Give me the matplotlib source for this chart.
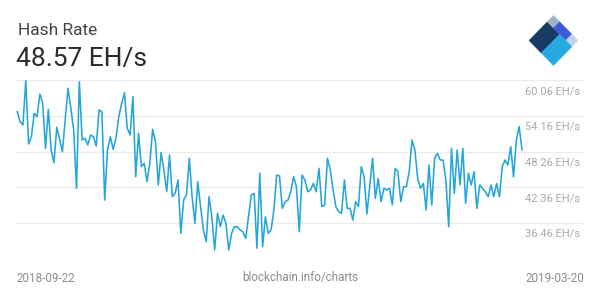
import numpy as np
import pandas as pd
import matplotlib
matplotlib.use("Agg")
import matplotlib.pyplot as plt
import matplotlib.dates as mdates
from matplotlib.patches import Polygon

plt.rcParams["font.family"] = ["Roboto", "DejaVu Sans"]

# ---- data -------------------------------------------------------------
start_date = "2018-09-22"
end_date = "2019-03-20"
title = "Hash Rate"
latest_value = 48.57
unit = "EH/s"
source = "blockchain.info/charts"
grid_values = [30.56, 36.46, 42.36, 48.26, 54.16, 60.06]
labeled_values = [36.46, 42.36, 48.26, 54.16, 60.06]

# daily hash rate (EH/s)
rate_sep_nov = [54.86, 53.20, 52.65, 60.00, 49.50, 50.71, 54.59, 54.03, 57.79, 56.25,
                48.79, 55.25, 48.51, 46.41, 52.27, 50.30, 48.23, 53.60, 58.73, 55.40,
                51.82, 42.16, 59.83, 50.17, 50.45, 49.34, 50.99, 50.71, 49.17, 55.14,
                54.86, 40.22, 48.51, 50.71, 48.62, 50.45, 54.03, 56.20, 58.01, 52.11,
                51.00, 57.34, 44.08, 51.28, 45.74, 46.31, 43.26]
rate_nov_dec = [46.31, 51.94, 49.89, 42.71, 48.06, 45.19, 41.60, 47.68, 40.77, 41.33,
                43.54, 34.70, 40.22, 41.05, 47.13, 40.77, 36.36, 43.26, 39.11, 35.25,
                33.31, 40.77, 37.45, 31.94, 38.00, 35.80, 37.73, 36.36, 31.94, 34.70,
                35.80, 35.80, 35.25, 34.97, 33.87, 37.45, 41.05, 41.33, 32.22, 44.65,
                32.48, 37.45, 34.70, 35.25, 38.56, 44.37, 44.20, 38.84, 39.94, 40.22,
                41.60, 44.08, 42.43, 34.97, 44.37, 43.54]
rate_jan_feb = [41.60, 41.88, 42.97, 41.60, 45.47, 39.11, 39.39, 47.13, 45.19, 41.88,
                39.11, 38.28, 38.00, 43.54, 38.84, 38.84, 36.91, 39.94, 39.11, 45.74,
                44.08, 37.90, 42.60, 47.13, 40.50, 43.82, 39.94, 42.16, 41.88, 42.16,
                39.39, 45.47, 44.92, 39.94, 42.43, 42.43, 44.92, 50.17, 48.51, 43.82,
                42.16, 42.97, 38.56, 46.02, 39.39, 47.13, 47.96, 46.85, 46.85, 43.54,
                35.80, 48.79]
rate_feb_mar = [41.33, 48.51, 42.71, 48.79, 39.67, 44.65, 42.71, 44.92, 38.84, 42.71,
                42.16, 41.60, 40.77, 42.71, 40.77, 42.97, 40.77, 45.74, 46.85, 46.02,
                49.06, 44.08, 50.17, 52.38, 48.57]

hash_rate = rate_sep_nov + rate_nov_dec + rate_jan_feb + rate_feb_mar
dates = pd.date_range(start_date, end_date, periods=len(hash_rate))

# ---- figure -----------------------------------------------------------
W, H = 600, 300
fig = plt.figure(figsize=(6, 3), dpi=100)
fig.patch.set_facecolor("white")

# plot area in pixel terms
px_left, px_right = 16.0, 583.0
px_line_start, px_line_end = 17.3, 522.0
px_bottom, px_top_grid = 258.3, 80.3
y_bottom, y_top_grid = grid_values[0], grid_values[-1]
px_per_unit = (px_bottom - px_top_grid) / (y_top_grid - y_bottom)
y_top = 61.0
px_top = px_top_grid - (y_top - y_top_grid) * px_per_unit

ax = fig.add_axes([px_left / W, 1 - px_bottom / H,
                   (px_right - px_left) / W, (px_bottom - px_top) / H])
ax.set_facecolor("none")

x0 = mdates.date2num(dates[0])
x1 = mdates.date2num(dates[-1])
days_per_px = (x1 - x0) / (px_line_end - px_line_start)
ax.set_xlim(x0 - (px_line_start - px_left) * days_per_px,
            x0 + (px_right - px_line_start) * days_per_px)
ax.set_ylim(y_bottom, y_top)

for v in grid_values:
    ax.axhline(v, color="#ebebeb", lw=0.9, zorder=0)

ax.plot(dates, hash_rate, color="#25a6d9", lw=1.15, solid_joinstyle="round",
        zorder=3, clip_on=False)

label_x = (525 - px_left) / (px_right - px_left)
for v in labeled_values:
    ax.annotate(f"{v:.2f} {unit}", xy=(label_x, v),
                xycoords=("axes fraction", "data"),
                xytext=(0, -11), textcoords="offset pixels",
                ha="left", va="center", fontsize=8, color="#a9a9a9")

for s in ax.spines.values():
    s.set_visible(False)
ax.set_xticks([])
ax.set_yticks([])

# ---- overlay for header, footer and logo -------------------------------
ov = fig.add_axes([0, 0, 1, 1])
ov.set_xlim(0, W)
ov.set_ylim(H, 0)
ov.axis("off")

ov.text(17.5, 35, title, fontsize=12.5, color="#444444", va="baseline", ha="left")
ov.text(16.5, 66, f"{latest_value:.2f} {unit}", fontsize=19, color="#2b2b2b",
        va="baseline", ha="left")

ov.text(16.5, 278, start_date, fontsize=8.4, color="#8c8c8c", va="center", ha="left")
ov.text(300, 278, source, fontsize=8.4, color="#8c8c8c", va="center", ha="center")
ov.text(584, 278, end_date, fontsize=8.4, color="#8c8c8c", va="center", ha="right")

# diamond logo built from rectangles in a rotated frame
L = np.array([529.0, 40.5])
U = np.array([553.5, 15.5]) - L
V = np.array([553.5, 65.5]) - L


def piece(u0, u1, v0, v1, color):
    pts = [L + u0 * U + v0 * V, L + u1 * U + v0 * V,
           L + u1 * U + v1 * V, L + u0 * U + v1 * V]
    ov.add_patch(Polygon(pts, closed=True, facecolor=color, edgecolor=color,
                         lw=0.3, joinstyle="round"))


piece(0.0, 0.75, 0.0, 0.5, "#183a67")
piece(0.75, 1.0, 0.0, 0.25, "#a3b3c7")
piece(0.75, 1.0, 0.25, 0.75, "#3d5ad6")
piece(0.75, 1.0, 0.75, 1.0, "#c3d0ee")
piece(0.0, 0.75, 0.5, 1.0, "#26a9e0")

fig.savefig("out.png", dpi=100, facecolor="white")
